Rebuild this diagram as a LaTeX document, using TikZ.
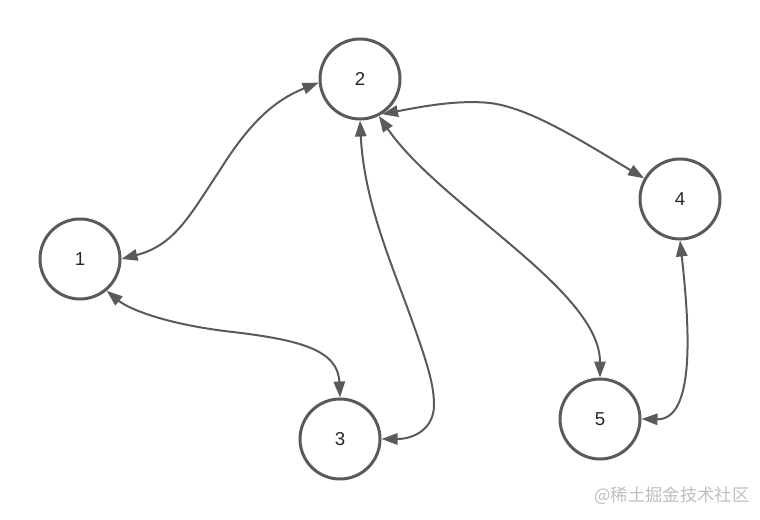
\documentclass[tikz,border=0pt]{standalone}
\usepackage{fontspec}
\setmainfont{Liberation Sans}
\newfontfamily\cjkfont{Noto Sans CJK SC}
\usetikzlibrary{arrows.meta}

\definecolor{edgegray}{RGB}{90,90,90}
\definecolor{markgray}{RGB}{190,190,190}

\tikzset{every picture/.style={line width=0.75pt}}
\tikzset{
	vertex/.style={circle, draw=edgegray, line width=2.25pt, minimum size=60pt, inner sep=0pt, font=\fontsize{14}{16}\selectfont, text=black!85},
	link/.style={draw=edgegray, line width=1.5pt, {Triangle[length=12pt,width=8.5pt]}-{Triangle[length=12pt,width=8.5pt]}}
}

\begin{document}
\begin{tikzpicture}[x=0.75pt,y=0.75pt,yscale=-1,xscale=1]
	\useasboundingbox (0,0) rectangle (760,520);

	%Shape: Circle
	\node[vertex] (n1) at (80,259) {1};
	%Shape: Circle
	\node[vertex] (n2) at (360,79) {2};
	%Shape: Circle
	\node[vertex] (n3) at (340,439) {3};
	%Shape: Circle
	\node[vertex] (n4) at (680,199) {4};
	%Shape: Circle
	\node[vertex] (n5) at (600,419) {5};

	%Curve Lines 1-2
	\draw [link] (n1.east) .. controls (175,245) and (190,215) .. (220,170) .. controls (250,122) and (275,100) .. (n2.185) ;
	%Curve Lines 1-3
	\draw [link] (n1.-50) .. controls (130,310) and (170,325) .. (233,332) .. controls (300,340) and (338,350) .. (n3.north) ;
	%Curve Lines 2-3
	\draw [link] (n2.south) .. controls (364,200) and (390,260) .. (410,315) .. controls (428,365) and (434,385) .. (434,405) .. controls (434,428) and (415,439) .. (n3.east) ;
	%Curve Lines 2-4
	\draw [link] (n2.-58) .. controls (430,105) and (460,100) .. (490,103) .. controls (530,108) and (580,140) .. (n4.150) ;
	%Curve Lines 2-5
	\draw [link] (n2.-63) .. controls (440,205) and (600,290) .. (n5.north) ;
	%Curve Lines 4-5
	\draw [link] (n4.south) .. controls (690,330) and (695,420) .. (n5.east) ;

	% Text Node
	\node[text=markgray, font=\cjkfont\fontsize{13}{15}\selectfont] (mark) at (672,496) {@稀土掘金技术社区};
\end{tikzpicture}
\end{document}
